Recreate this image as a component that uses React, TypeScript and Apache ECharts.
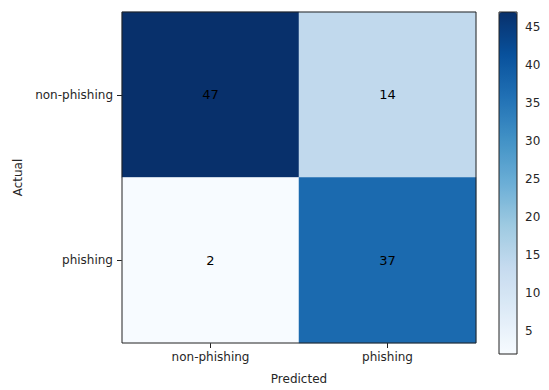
import React, { useEffect, useRef } from "react";
import * as echarts from "echarts";

const predictedLabels = ["non-phishing", "phishing"];
const actualLabels = ["non-phishing", "phishing"];
// rows = actual, cols = predicted
const matrix = [
  [47, 14],
  [2, 37],
];
const colorbarTicks = [5, 10, 15, 20, 25, 30, 35, 40, 45];
const blues = ["#f7fbff", "#deebf7", "#c6dbef", "#9ecae1", "#6baed6", "#4292c6", "#2171b5", "#08519c", "#08306b"];

export default function App() {
  const ref = useRef<HTMLDivElement>(null);
  useEffect(() => {
    if (!ref.current) return;
    const chart = echarts.init(ref.current, null, { renderer: "svg" });
    const data: number[][] = [];
    matrix.forEach((row, r) => row.forEach((v, c) => data.push([c, r, v])));
    const all = matrix.flat();
    const vmin = Math.min(...all);
    const vmax = Math.max(...all);
    const font = "DejaVu Sans";
    const txt = "#262626";
    chart.setOption({
      animation: false,
      backgroundColor: "#ffffff",
      textStyle: { fontFamily: font },
      grid: [
        { left: 122, top: 12, width: 354, height: 342, show: true, borderColor: "#222", borderWidth: 1, z: 10, backgroundColor: "transparent" },
        { left: 499, top: 12, width: 18, height: 342, show: true, borderColor: "#222", borderWidth: 1, z: 10, backgroundColor: "transparent" },
      ],
      xAxis: [
        {
          type: "category",
          gridIndex: 0,
          data: predictedLabels,
          name: "Predicted",
          nameLocation: "middle",
          nameGap: 30,
          nameTextStyle: { fontFamily: font, fontSize: 12, color: txt },
          axisLine: { show: false },
          axisTick: { show: true, alignWithLabel: true, length: 5, lineStyle: { color: "#222" } },
          axisLabel: { fontFamily: font, fontSize: 12, color: txt, margin: 8 },
          splitLine: { show: false },
        },
        { type: "value", gridIndex: 1, show: false, min: 0, max: 1 },
      ],
      yAxis: [
        {
          type: "category",
          gridIndex: 0,
          data: actualLabels,
          inverse: true,
          name: "Actual",
          nameLocation: "middle",
          nameGap: 98,
          nameTextStyle: { fontFamily: font, fontSize: 12, color: txt },
          axisLine: { show: false },
          axisTick: { show: true, alignWithLabel: true, length: 5, lineStyle: { color: "#222" } },
          axisLabel: { fontFamily: font, fontSize: 12, color: txt, margin: 9 },
          splitLine: { show: false },
        },
        {
          type: "value",
          gridIndex: 1,
          position: "right",
          min: vmin,
          max: vmax,
          axisLine: { show: false },
          axisTick: { show: true, length: 5, customValues: colorbarTicks, lineStyle: { color: "#222" } },
          axisLabel: { fontFamily: font, fontSize: 12, color: txt, margin: 8, customValues: colorbarTicks },
          splitLine: { show: false },
        },
      ],
      visualMap: {
        type: "continuous",
        seriesIndex: 0,
        min: vmin,
        max: vmax,
        orient: "vertical",
        left: 499,
        top: 12,
        itemWidth: 18,
        itemHeight: 342,
        padding: 0,
        calculable: false,
        hoverLink: false,
        showLabel: false,
        text: ["", ""],
        inRange: { color: blues },
      },
      series: [
        {
          type: "heatmap",
          xAxisIndex: 0,
          yAxisIndex: 0,
          data,
          label: { show: true, fontFamily: font, fontSize: 13, color: "#000" },
          itemStyle: { borderWidth: 0 },
          emphasis: { disabled: true },
        },
        { type: "scatter", xAxisIndex: 1, yAxisIndex: 1, data: [], silent: true },
      ],
    });
    return () => chart.dispose();
  }, []);
  return <div ref={ref} style={{ width: 549, height: 390, position: "absolute", left: 0, top: 0 }} />;
}
